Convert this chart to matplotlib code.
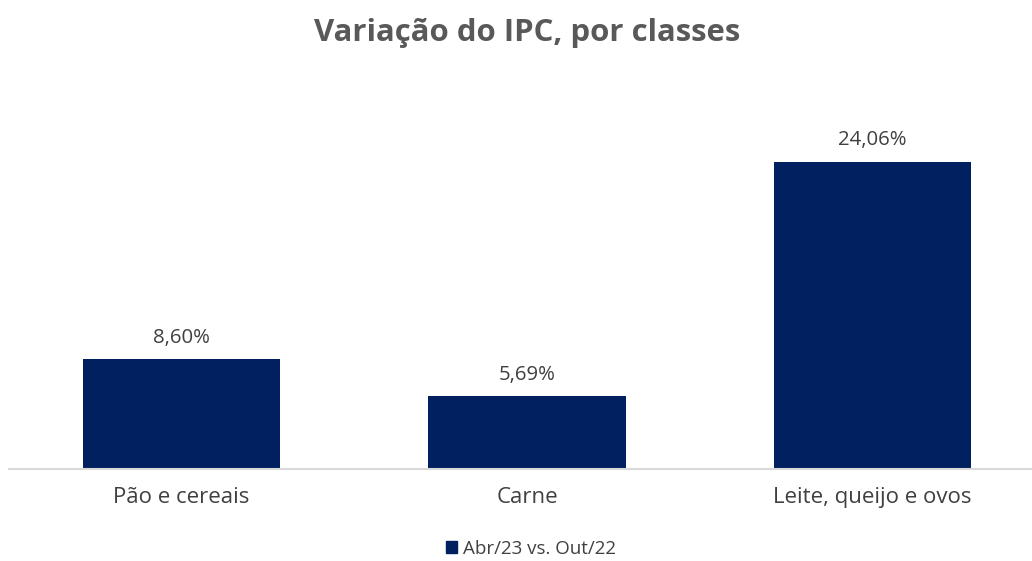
import matplotlib.pyplot as plt
from matplotlib.patches import Patch

# --- DADOS ---
categorias = ['Pão e cereais', 'Carne', 'Leite, queijo e ovos']
variacao = [8.60, 5.69, 24.06]
serie = 'Abr/23 vs. Out/22'

COR_BARRA = '#002060'
COR_TEXTO = '#404040'

plt.rcParams['font.family'] = ['Open Sans', 'DejaVu Sans']

fig = plt.figure(figsize=(10.32, 5.61), dpi=100)
W, H = 1032, 561
# área do gráfico em pixels: x de 8.5 a 1045.5, base em y=469, topo em y=86
ax = fig.add_axes([8.5 / W, (H - 469) / H, 1037 / W, 383 / H])

x = range(len(categorias))
ax.bar(x, variacao, width=0.57, color=COR_BARRA, zorder=2)

for xi, v in zip(x, variacao):
    ax.text(xi, v + 0.9, f'{v:.2f}%'.replace('.', ','), ha='center', va='bottom',
            fontsize=14.7, color=COR_TEXTO)

ax.set_xlim(-0.5, len(categorias) - 0.5)
ax.set_ylim(0, 30)
ax.set_xticks(list(x))
ax.set_xticklabels(categorias, fontsize=16, color=COR_TEXTO)
ax.tick_params(axis='x', length=0, pad=13)
ax.set_yticks([])
for s in ['top', 'right', 'left']:
    ax.spines[s].set_visible(False)
ax.spines['bottom'].set_color('#d9d9d9')
ax.spines['bottom'].set_linewidth(1.5)

fig.text(527 / W, 1 - 33 / H, 'Variação do IPC, por classes', ha='center', va='center',
         fontsize=22.4, fontweight='bold', color='#595959')

fig.legend(handles=[Patch(color=COR_BARRA, label=serie)], loc='center',
           bbox_to_anchor=(531 / W, 1 - 549 / H), frameon=False, fontsize=13.5,
           handlelength=0.6, handleheight=0.6, handletextpad=0.3, labelcolor=COR_TEXTO)

fig.savefig('out.png', dpi=100)
